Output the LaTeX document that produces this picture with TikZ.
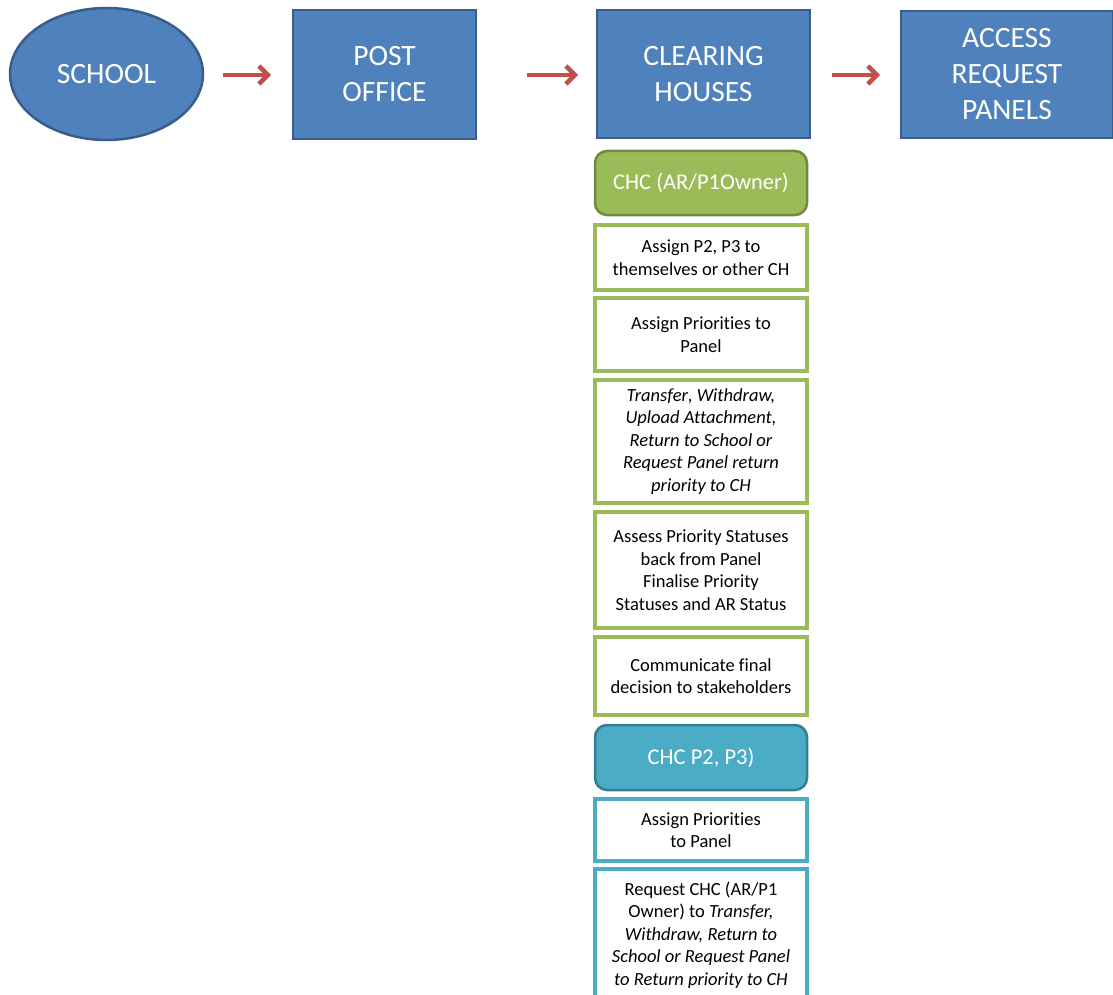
\documentclass[tikz,border=0pt]{standalone}
\usepackage{fontspec}
\setmainfont[Ligatures=NoCommon]{Carlito}
\usetikzlibrary{arrows.meta,shapes.geometric}
\definecolor{bfill}{HTML}{4F81BD}
\definecolor{bdraw}{HTML}{385D8A}
\definecolor{gfill}{HTML}{9BBB59}
\definecolor{gdraw}{HTML}{71893F}
\definecolor{tfill}{HTML}{4BACC6}
\definecolor{tdraw}{HTML}{357D91}
\definecolor{ared}{HTML}{C0504D}
\tikzset{
  x=1pt, y=-1pt,
  big/.style={draw=bdraw, fill=bfill, line width=2.5pt, text=white, align=center,
    font=\fontsize{29.5}{36}\selectfont, inner sep=0pt},
  hdr/.style={draw=#1!70!black, fill=#1, line width=2.5pt, rounded corners=12pt, text=white,
    align=center, font=\fontsize{22.5}{27}\selectfont, minimum width=212pt, inner sep=0pt},
  item/.style={draw=#1, fill=white, line width=3.5pt, text=black, align=center,
    font=\fontsize{18.5}{22.5}\selectfont, minimum width=212pt, inner sep=0pt},
  flow/.style={draw=ared, line width=4.5pt, -{Straight Barb[length=9pt,width=18pt,line width=4.5pt]}}
}
\begin{document}
\begin{tikzpicture}
\useasboundingbox (0,0) rectangle (1113,995);
\clip (0,0) rectangle (1113,995);
\node[big, ellipse, minimum width=193pt, minimum height=132pt] (school) at (106.5,74) {SCHOOL};
\node[big, rectangle, minimum width=183pt, minimum height=129pt] (post) at (384.5,74.5) {POST\\OFFICE};
\node[big, rectangle, minimum width=213pt, minimum height=128pt] (clear) at (703.5,74) {CLEARING\\HOUSES};
\node[big, rectangle, minimum width=212pt, minimum height=127pt] (arp) at (1007,74.5) {ACCESS\\REQUEST\\PANELS};

\coordinate (a1s) at (223,75); \coordinate (a1e) at (271,75);
\coordinate (a2s) at (527,75); \coordinate (a2e) at (578,75);
\coordinate (a3s) at (832,75); \coordinate (a3e) at (880,75);
\draw[flow] (a1s) -- (a1e);
\draw[flow] (a2s) -- (a2e);
\draw[flow] (a3s) -- (a3e);

\node[hdr=gfill, draw=gdraw, minimum height=64pt] (chc1) at (701,183) {CHC (AR/P1Owner)};
\node[item=gfill, minimum height=65pt] (b1) at (701,257.5) {Assign P2, P3 to\\themselves or other CH};
\node[item=gfill, minimum height=73pt] (b2) at (701,334.5) {Assign Priorities to\\Panel};
\node[item=gfill, minimum height=123pt] (b3) at (701,441.5) {\itshape Transfer\upshape, \itshape Withdraw,\\\itshape Upload Attachment,\\\itshape Return to School or\\\itshape Request Panel return\\\itshape priority to CH};
\node[item=gfill, minimum height=116pt] (b4) at (701,570) {Assess Priority Statuses\\back from Panel\\Finalise Priority\\Statuses and AR Status};
\node[item=gfill, minimum height=78pt] (b5) at (701,676) {Communicate final\\decision to stakeholders};
\node[hdr=tfill, draw=tdraw, minimum height=65pt] (chc2) at (701,757.5) {CHC P2, P3)};
\node[item=tfill, minimum height=62pt] (b6) at (701,830) {Assign Priorities\\to Panel};
\node[item=tfill, minimum height=132pt] (b7) at (701,935) {Request CHC (AR/P1\\Owner) to \itshape Transfer,\\\itshape Withdraw, Return to\\\itshape School or Request Panel\\\itshape to Return priority to CH};
\end{tikzpicture}
\end{document}
